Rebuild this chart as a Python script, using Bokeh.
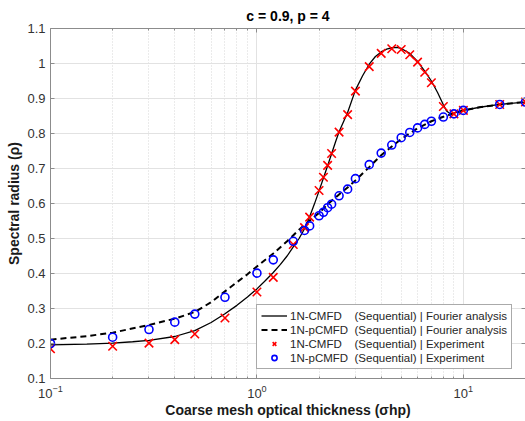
from bokeh.plotting import figure
from bokeh.models import FixedTicker, LogAxis, LinearAxis, Legend, LegendItem
from bokeh.embed import file_html
from bokeh.resources import INLINE

title_text = "c = 0.9, p = 4"
x_label = "Coarse mesh optical thickness (σhp)"
y_label = "Spectral radius (ρ)"

fa_cmfd_x = [0.1, 0.15, 0.2, 0.25, 0.3, 0.4, 0.5, 0.6, 0.7, 0.8, 0.9, 1.0, 1.1, 1.2, 1.3, 1.4,
             1.5, 1.6, 1.68, 1.75, 1.8, 1.9, 2.0, 2.1, 2.2, 2.3, 2.4, 2.5, 2.75, 3.0, 3.25, 3.5,
             3.75, 4.0, 4.25, 4.5, 4.75, 5.0, 5.5, 6.0, 6.5, 7.0, 7.5, 8.0, 8.3, 8.6, 9.0, 10,
             12, 15, 20]
fa_cmfd_y = [0.196, 0.198, 0.201, 0.205, 0.209, 0.220, 0.237, 0.260, 0.285, 0.309, 0.333, 0.356,
             0.380, 0.403, 0.426, 0.450, 0.476, 0.500, 0.522, 0.545, 0.562, 0.599, 0.636, 0.673,
             0.708, 0.742, 0.775, 0.805, 0.860, 0.924, 0.965, 0.998, 1.020, 1.033, 1.041, 1.045,
             1.046, 1.043, 1.029, 1.006, 0.978, 0.950, 0.917, 0.882, 0.864, 0.857, 0.858, 0.866,
             0.875, 0.883, 0.890]

fa_pcmfd_x = [0.1, 0.15, 0.2, 0.3, 0.4, 0.5, 0.6, 0.7, 0.8, 0.9, 1.0, 1.2, 1.4, 1.6, 1.8, 2.0,
              2.2, 2.5, 2.75, 3.0, 3.5, 4.0, 4.5, 5.0, 6.0, 7.0, 8.0, 9.0, 10, 12, 15, 20]
fa_pcmfd_y = [0.211, 0.221, 0.231, 0.253, 0.271, 0.290, 0.318, 0.349, 0.375, 0.398, 0.420, 0.457,
              0.492, 0.525, 0.551, 0.573, 0.598, 0.626, 0.646, 0.666, 0.704, 0.738, 0.763, 0.784,
              0.815, 0.835, 0.848, 0.857, 0.866, 0.875, 0.883, 0.890]

exp_x = [0.1, 0.2, 0.3, 0.4, 0.5, 0.7, 1.0, 1.2, 1.5, 1.7, 1.8, 2.0, 2.1, 2.2, 2.3, 2.5, 2.75,
         3.0, 3.5, 4.0, 4.5, 5.0, 5.5, 6.0, 6.5, 7.0, 8.0, 9.0, 10, 15, 20]
exp_cmfd_y = [0.185, 0.192, 0.201, 0.211, 0.227, 0.273, 0.347, 0.389, 0.483, 0.531, 0.561, 0.637,
              0.675, 0.709, 0.743, 0.804, 0.854, 0.921, 0.991, 1.029, 1.042, 1.040, 1.025, 1.004,
              0.975, 0.945, 0.877, 0.856, 0.866, 0.883, 0.890]
exp_pcmfd_y = [0.200, 0.218, 0.240, 0.261, 0.284, 0.332, 0.401, 0.439, 0.492, 0.523, 0.536, 0.565,
               0.575, 0.588, 0.598, 0.622, 0.641, 0.671, 0.711, 0.744, 0.767, 0.788, 0.803, 0.816,
               0.826, 0.835, 0.847, 0.856, 0.866, 0.883, 0.890]

x_major_ticks = [0.1, 1, 10]
x_minor_ticks = [0.2, 0.3, 0.4, 0.5, 0.6, 0.7, 0.8, 0.9, 2, 3, 4, 5, 6, 7, 8, 9, 20]
y_ticks = [0.1, 0.2, 0.3, 0.4, 0.5, 0.6, 0.7, 0.8, 0.9, 1.0, 1.1]
y_tick_labels = ["0.1", "0.2", "0.3", "0.4", "0.5", "0.6", "0.7", "0.8", "0.9", "1", "1.1"]

NB = "\u00a0"
legend_labels = [
    "1N-CMFD" + NB * 4 + "(Sequential) | Fourier analysis",
    "1N-pCMFD" + NB * 2 + "(Sequential) | Fourier analysis",
    "1N-CMFD" + NB * 4 + "(Sequential) | Experiment",
    "1N-pCMFD" + NB * 2 + "(Sequential) | Experiment",
]

FONT = "Liberation Sans"
AXIS_COL = "#8c8c8c"
LABEL_COL = "#333333"

p = figure(width=525, height=421, x_axis_type="log", x_range=(0.1, 20), y_range=(0.1, 1.1),
           output_backend="svg", toolbar_location=None,
           min_border_left=50, min_border_right=0, min_border_top=28, min_border_bottom=43)
p.outline_line_color = None

p.title.text = title_text
p.title.align = "center"
p.title.text_font = FONT
p.title.text_font_size = "14px"
p.title.text_font_style = "bold"
p.title.text_color = "#000000"

xt = FixedTicker(ticks=x_major_ticks, minor_ticks=x_minor_ticks)
yt = FixedTicker(ticks=y_ticks, minor_ticks=[])

xa = p.xaxis[0]
xa.ticker = xt
ya = p.yaxis[0]
ya.ticker = yt
ya.major_label_overrides = dict(zip(y_ticks, y_tick_labels))

for ax in (xa, ya):
    ax.axis_line_color = AXIS_COL
    ax.major_tick_line_color = AXIS_COL
    ax.minor_tick_line_color = AXIS_COL
    ax.major_tick_in = 4
    ax.major_tick_out = 0
    ax.minor_tick_in = 2
    ax.minor_tick_out = 0
    ax.major_label_text_font = FONT
    ax.major_label_text_font_size = "13px"
    ax.major_label_text_color = LABEL_COL
    ax.axis_label_text_font = FONT
    ax.axis_label_text_font_size = "14px"
    ax.axis_label_text_font_style = "bold"
    ax.axis_label_text_color = "#1a1a1a"

xa.axis_label = x_label
xa.major_label_standoff = 6
xa.axis_label_standoff = 1
ya.axis_label = y_label
ya.major_label_standoff = 5
ya.axis_label_standoff = 2

top = LogAxis(ticker=xt, major_label_text_font_size="1px", major_label_text_alpha=0,
              major_label_standoff=0,
              axis_line_color=AXIS_COL, major_tick_line_color=AXIS_COL,
              minor_tick_line_color=AXIS_COL, major_tick_in=4, major_tick_out=0,
              minor_tick_in=2, minor_tick_out=0)
p.add_layout(top, "above")
right = LinearAxis(ticker=yt, major_label_text_font_size="1px", major_label_text_alpha=0,
                   major_label_standoff=0,
                   axis_line_color=AXIS_COL, major_tick_line_color=AXIS_COL,
                   major_tick_in=4, major_tick_out=0)
p.add_layout(right, "right")

p.xgrid.ticker = xt
p.ygrid.ticker = yt
p.xgrid.grid_line_color = "#e2e2e2"
p.xgrid.minor_grid_line_color = "#d6d6d6"
p.xgrid.minor_grid_line_dash = "1 2"
p.ygrid.grid_line_color = "#e2e2e2"

r1 = p.line(fa_cmfd_x, fa_cmfd_y, line_color="black", line_width=1.3)
r2 = p.line(fa_pcmfd_x, fa_pcmfd_y, line_color="black", line_width=2, line_dash="6 4")
r3 = p.scatter(exp_x, exp_cmfd_y, marker="x", size=12, line_color="#ff0000", line_width=1.6)
r4 = p.scatter(exp_x, exp_pcmfd_y, marker="circle", size=8, line_color="#0000ff",
               fill_color=None, line_width=1.6)

legend = Legend(items=[LegendItem(label=legend_labels[0], renderers=[r1]),
                       LegendItem(label=legend_labels[1], renderers=[r2]),
                       LegendItem(label=legend_labels[2], renderers=[r3]),
                       LegendItem(label=legend_labels[3], renderers=[r4])],
                location=(206, 9), label_text_font=FONT, label_text_font_size="11.5px",
                label_text_color="#262626", glyph_width=26, glyph_height=13, label_height=13,
                label_standoff=3, spacing=1, padding=4, margin=0,
                border_line_color="#555555", border_line_width=1, background_fill_alpha=1)
p.add_layout(legend)

open("out.html", "w").write(file_html(p, INLINE))
